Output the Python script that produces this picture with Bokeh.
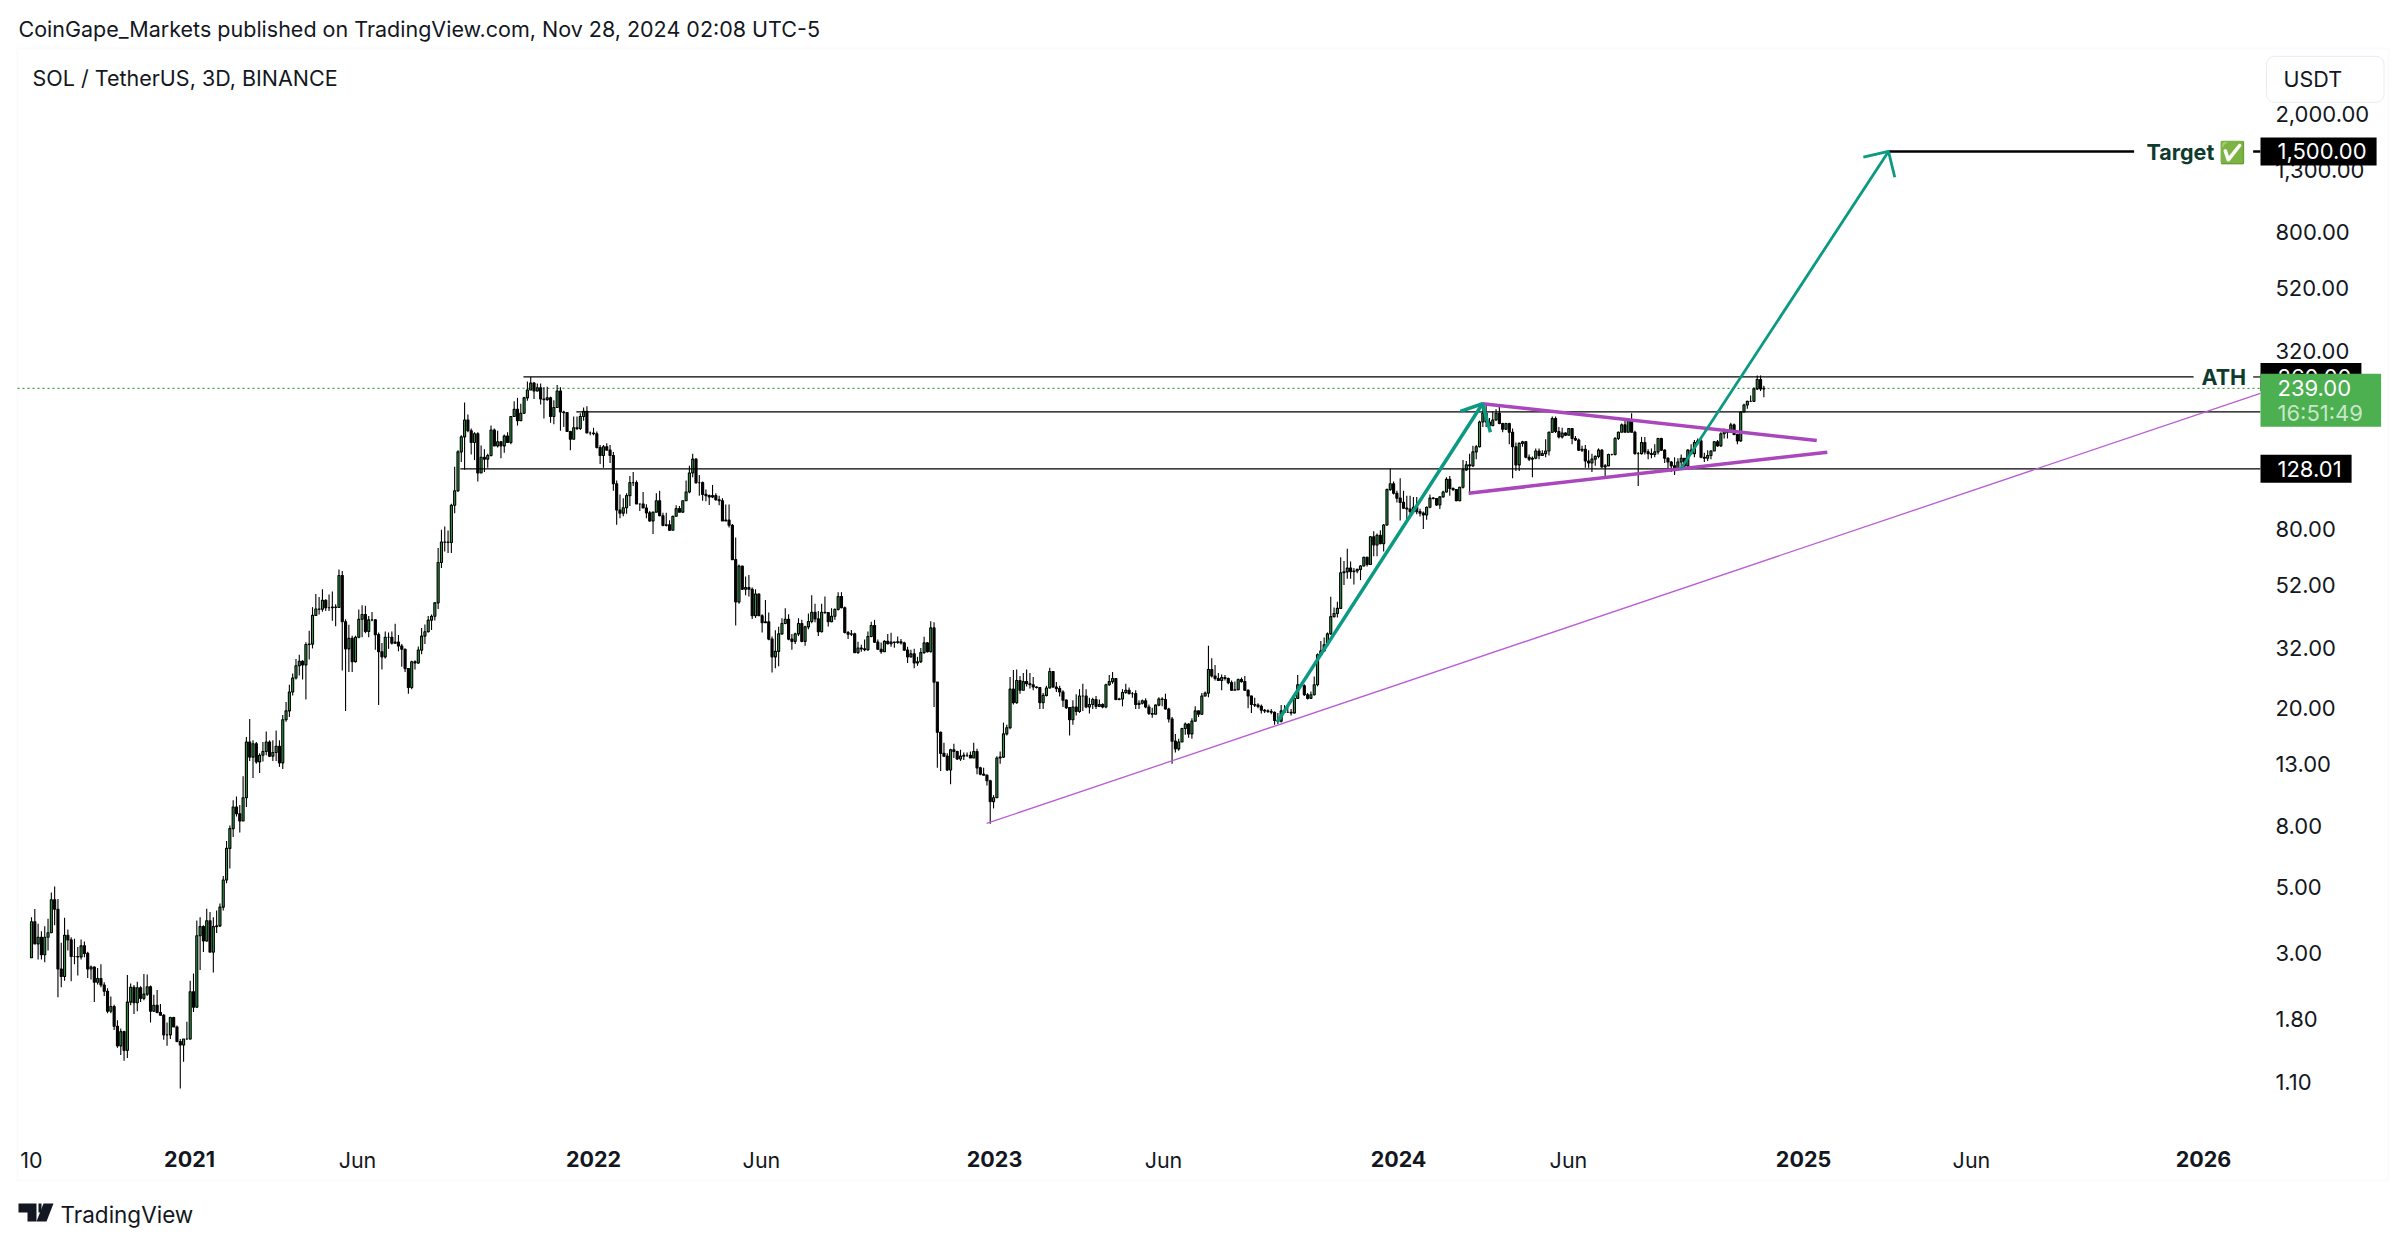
from bokeh.plotting import figure
from bokeh.models import (Range1d, FixedTicker, NumeralTickFormatter, LinearAxis, Label,
                          BoxAnnotation, PolyAnnotation, ColumnDataSource)
from bokeh.embed import file_html
from bokeh.resources import INLINE

first_open = 2.89
closes = [
3.82,3.22,3.39,2.96,3.39,3.51,4.53,4.21,2.65,2.50,
3.44,3.32,2.92,2.92,2.91,3.17,2.99,2.65,2.69,2.39,
2.46,2.34,2.23,1.91,1.98,1.70,1.46,1.63,1.41,2.05,
2.30,2.04,2.29,2.11,2.18,2.31,1.91,2.00,1.89,1.85,
1.59,1.59,1.82,1.69,1.51,1.47,1.54,1.54,2.22,1.97,
3.43,3.68,3.29,3.85,3.02,3.68,3.70,4.28,5.28,6.75,
7.87,9.30,8.83,8.35,10.0,15.4,13.7,15.2,13.2,13.9,
14.3,15.4,13.8,14.2,14.9,13.1,18.3,19.6,22.7,25.3,
27.8,28.8,28.0,32.8,32.9,41.1,43.2,43.1,46.2,43.6,
43.6,43.8,43.7,56.0,39.1,31.7,34.4,28.7,34.7,39.9,
41.4,36.3,39.7,39.7,35.4,31.0,29.8,34.7,34.7,33.1,
33.4,32.4,31.6,27.2,23.5,28.7,28.4,31.4,35,36.2,
39.6,40.8,45.3,61.9,72.6,72.5,72.3,96.5,108,146,
164,187,172,157,168,124,140,138,142,173,
153,158,153,165,157,192,203,186,197,222,
236,249,234,240,220,219,222,192,206,234,
199,198,171,161,176,175,192,200,169,169,
168,151,142,152,148,142,114,93,90.8,94.7,
104,115,115,97.5,97.5,94.5,91,85.5,91.5,100,
89,82.6,83,79.5,88.6,94,91.5,100,107,124,
138,115,115,105,104,103,104,100.7,100,85.5,
86,82.7,63.3,45.6,60.2,50.3,51,50.3,41,48.5,
41,38.8,39.1,34.2,29.8,31.1,35.6,38.6,39.9,34.2,
33.6,35.6,38.6,33.6,37.6,39.2,42.1,40,36.2,42.1,
42,39.1,40.8,43,47.6,43.6,36,35.5,35.6,30.8,
31.9,31.7,31.5,34.9,38,33.4,31.6,31,33.6,33,
33.4,33.3,33.5,33.2,31.4,29.8,30.5,28.4,28.7,30.8,
33.2,31,37.3,24.5,16.6,14.1,13.8,12.4,14.5,14.3,
13.5,13.8,13.9,13.9,13.6,14.3,12.6,12,11.9,11.4,
9.7,10,13.6,13.7,16.4,17.2,23.2,20.9,24.8,23,
24.6,24.2,24,23.6,23.5,20.9,22.1,23.4,26.6,23.6,
23.3,22.7,21.3,20.1,18.3,20.2,19.5,22,22,20.2,
20.6,21.4,20.3,20.6,20.2,24,24.6,25.2,21.4,21.5,
22.6,23,22.4,22.4,20.6,20.8,21.2,20.2,19.2,19.1,
20.5,21.5,21.4,19.9,18.4,15.5,14.6,15.4,17.1,17.7,
16.4,18.1,19.6,19.1,22,22.5,27,25.7,25.2,24.8,
25.4,25.2,24.4,23,23.1,25,24.6,23,22,20.6,
20.5,20.3,19.7,19.6,19.5,19.4,18.2,18.1,19.6,19.4,
19.4,19.3,21.6,24,23.8,22.2,21.6,22.2,24,30.3,
31.2,32.7,35.6,40.7,41.7,43.4,57.2,57.6,59.3,57.7,
58,58.7,60.3,64.5,61,75.6,70.9,76.5,71.6,82.8,
109,114,106,102,98.7,94.4,93.8,91.9,95,91.9,
90.8,89.5,95,102,101.7,96.7,103,107,118,110,
109,100,111,127,132,131,146,152,184,197,
184,179,187,197,182,174,182,170,152,132,
156,158,140,138,139,147,142,144,147,170,
189,171,164,169,166,175,162,160,148,149,
136,134,138,141,148,130,131,143,143,162,
170,180,170,187,170,144,144,157,146,144,
143,146,162,148,139,135,131,128,135,139,
131,148,144,157,159,140,139,142,147,158,
153,168,172,170,180,167,159,199,210,216,
216,238,256,238,239]
highs = [
3.96,4.22,3.76,3.55,3.69,3.91,4.79,5.02,4.56,3.25,
3.94,3.60,3.39,3.35,3.14,3.33,3.28,3.03,2.72,2.70,
2.67,2.75,2.39,2.28,2.14,2.01,1.78,1.67,1.64,2.53,
2.37,2.34,2.40,2.32,2.55,2.54,2.33,2.17,2.25,2.02,
1.87,1.75,1.83,1.83,1.71,1.54,1.54,1.76,2.42,2.56,
3.86,3.96,3.72,4.23,4.12,3.96,4.17,4.40,5.45,7.15,
8.06,9.80,10.1,9.45,11.8,16.0,18.4,15.6,15.4,14.1,
15.4,16.7,15.6,15.6,16.85,15.6,19.0,21.0,24.0,26.2,
29.3,30.3,29.0,33.4,36.5,43.8,48.5,47.4,50.3,46.6,
48.3,49.5,44.8,58.7,58,39.9,38.2,35.1,35.1,43.0,
44.5,44.3,40.9,42.2,39.9,36,33.2,36.3,36,36.3,
38.5,35.3,32.9,31.8,27.2,28.9,29,32.3,37.3,38.3,
40.9,41.4,45.6,69.3,79.8,81.9,79.4,97.7,130,148,
166,214,195,175,170,170,153.5,149,144,179,
175,172,159,167,170,193,216,222,212,224,
252,261,251,248,248,241,242,224,218,245,
241,201,199,172,192,192,197,206,208,171,
176,171,154,154,156,154,146,117,105,102,
106,121,125,117,97.8,107,97.2,92.3,91.5,106,
108,91,91,86,89,96.5,96,100,117,131,
144,139,122,116,109,105,113,106,104,102,
97,97,83.5,75.2,61,59.8,55.6,56.2,51,50.3,
48.7,41.5,46.3,42,34.9,36.6,37.6,40.2,43.4,41.5,
35.6,35.9,40.2,39.7,37.9,41.7,48,45,42.5,45,
47.6,42,43.4,43.4,49.2,49.2,44,36.4,36.7,35.9,
33.5,32.7,34.1,36.3,39.1,39.7,34.1,33.3,33.9,35.6,
35.9,33.5,34.9,34.2,33.5,32.2,31.5,31.7,29.8,31.9,
34.8,33.4,39.3,39,24.4,16.7,15.3,14.1,14.6,15.2,
14.4,14.5,14.2,14.2,14.3,15.3,14.6,12.7,12.6,12,
11.5,10.2,13.8,14.3,17.9,17.6,25.5,26.9,27,25.7,
26.3,27,26.3,25.5,23.7,23.5,22.5,23.8,27.4,26.7,
24.5,23.8,23,21.4,20.2,21.3,22.3,23.2,24.2,23.2,
21.7,21.7,22,21.4,20.8,24.2,25.9,26.5,25.3,21.7,
23.2,24.2,23.5,22.7,23,21.3,21.4,21.6,20.6,20.1,
20.6,21.8,21.8,22.4,20.1,18.7,16.4,15.8,17.2,17.9,
17.8,18.5,20.3,19.6,22.5,22.8,32.5,29.5,28,26.3,
26,25.9,25.4,24.8,24.6,25.2,25.4,25.7,23.2,22.1,
21.7,20.8,20.6,19.9,19.8,19.9,19.5,19.3,20.5,20.5,
20.2,19.9,22.2,25.9,24.2,24.1,22.5,22.8,25.6,30.6,
33.7,34.6,36,47.5,43.7,45.7,64.5,62.7,68.9,62.4,
59.3,59,60.7,64.8,64.8,76,78.9,77.5,79.5,83.4,
110,128,116,108,119,108,104,104,103,103,
94,91.9,95.6,105,103,102,103.6,108,120,121,
110.5,109,111.5,137,136,144,153,154,186,212,
210,190,200,203,208,183,183,183,175,157,
157,159,159,143,141,150,150,148,161,171,
192,192,177,176,170,175,175,165,162,153,
154,148,144,142,150,149,133,144,144,164,
171,182,187,189,197,172,146,164,164,149,
150,155,163,163,149,140,136,140,139,143,
138,149,155,160,162,162,145,148,148,159,
160,170,175,172,183,182,168,200,212,217,
226,241,264,264,244]
lows = [
2.89,3.22,2.85,2.85,2.79,3.06,3.51,3.72,2.13,2.30,
2.42,3.06,2.41,2.75,2.52,2.85,2.90,2.47,2.44,2.05,
2.35,2.30,2.15,1.88,1.88,1.65,1.44,1.36,1.30,1.33,
2.00,1.87,1.91,2.05,2.08,2.15,1.75,1.90,1.88,1.85,
1.53,1.46,1.54,1.69,1.50,1.05,1.29,1.53,1.53,1.90,
1.96,2.63,3.02,3.27,3.02,2.58,3.50,3.67,4.17,5.15,
5.77,7.37,8.65,7.63,8.35,9.3,13.3,11.65,13.0,12.1,
13.25,13.9,13.7,13.3,13.3,12.7,12.5,18.0,18.7,22.1,
25.0,25.8,25.0,21.4,29.2,31.8,40.9,41.4,42.3,42.5,
42.5,39.4,37.8,43.6,26.8,19.6,26.5,26.5,28.5,34.4,
34.7,35.8,34.7,39.3,31.5,20.5,27,29.4,31.7,32.8,
32.9,31.1,27.6,26.5,22.4,23.2,27,28.2,30.4,32.9,
36,36.7,39.5,43.2,59.4,67.5,66.6,66.6,90.8,107,
135,127,170,143,137,116,125,125,129,141,
153,151,139,145,157,155,192,179,186,196,
217,236,220,233,211,189,217,183,181,205,
172,177,171,148,161,173,173,186,169,166,
166,150,133,129,148,134,108,83,87.2,88.6,
90.4,96,112,97.5,92.3,94.5,87.2,85,77.2,91.5,
88.6,82,81.8,79,79.5,88.6,91.5,91,100,106,
120,114,104,100,99.5,96.8,102,100,96.5,85.5,
85.5,81.3,63.3,38,45,50,48,47.6,40,40.3,
41,36,38.8,33.9,26.4,27.3,27.7,35.4,38.4,33.9,
31.5,32.9,35,33.4,32.5,36.9,38.7,39,35,36,
41.6,37.7,39,39.7,42.7,43.4,35.7,34.2,35,30.7,
30.5,31,31.1,31.2,34.7,33.2,31.4,30.5,31,32.8,
32.2,32,33,32.8,31.2,28.4,29.7,27.3,27.8,28.4,
30.5,30.8,30.8,20.2,12.6,12.3,13.7,12.3,11.1,13.6,
13.4,13.3,13.4,13.7,13.6,13.6,12,11.9,11.9,11,
8.17,9.2,10,13,13.6,16.2,17,20.6,20.7,22.4,
23,23.7,23.3,23,23.3,19.9,19.9,21.9,23.3,23.4,
22.7,21.9,20.2,19.9,16.2,17.6,18.9,19.3,19.6,20,
19.2,19.9,19.9,20.3,20,20,23.8,24.2,21.3,21.3,
20.3,22.4,22.3,21.7,19.9,19.9,20.6,20,19,18.6,
19.1,20.3,20.3,19.8,17.9,13,14.2,14.4,15.4,16.3,
15.9,15.8,18.2,18.7,19,21.9,21.8,25.4,24.8,24.7,
23,24.8,24.1,22.9,23,23,24.4,22.9,20,19.3,
20.2,20,19.2,19.3,19.3,19.1,17.6,17.7,17.9,19.3,
19.3,18.9,19.2,21.5,23.7,22,21.4,21.5,22.1,23.7,
30,31.1,32.5,35.4,40.4,40.4,43.2,52,54.6,54.6,
52.2,57,54,60,60,61,65,65,71.3,67.4,
82.3,108,105,98.7,85.7,93.8,86.2,88,91.9,90,
88.5,80.3,86.2,94.4,101,96,93.7,102.5,106.5,104,
108,99.6,99.6,110,126,105,130,138,151,177,
177,171,179,186,181,170,173,155,119,126,
126,152,139,136,120,138,138,142,140,142,
169,169,162,162,165,166,155,159,147,146,
129,129,125,131,139,129,121,131,142,142,
160,171,170,170,170,143,112,143,143,138,
139,140,143,147,134,128,125,122,128,129,
130,129,143,140,155,139,135,136,138,147,
152,152,162,162,170,166,155,158,198,204,
215,215,236,234,223]
assert len(closes) == len(highs) == len(lows), (len(closes), len(highs), len(lows))

price_ticks = [2000, 1300, 800, 520, 320, 200, 130, 80, 52, 32, 20, 13, 8, 5, 3, 1.8, 1.1]
year_ticks = [47.8, 170.0, 291.3, 413.5, 536.0, 657.0]
year_labels = ["2021", "2022", "2023", "2024", "2025", "2026"]
month_ticks = [0, 98.6, 220.8, 342.4, 464.9, 586.8]
month_labels = ["10", "Jun", "Jun", "Jun", "Jun", "Jun"]

ath_line = (148.8, 261.0)
mid_line = (164.8, 199.0)
low_line = (129.7, 128.01)
target_line = (561.7, 1500.0)
chart_left = -4.235
line_end = 674.2
ath_line_end = 654.0
target_line_end = 636.0
last_price = 239.0

trend_xs = [288.9, 674.2]
trend_ys = [8.19, 230.0]
wedge_top_xs = [438.9, 540.0]
wedge_top_ys = [212.0, 159.5]
wedge_low_xs = [434.7, 543.2]
wedge_low_ys = [106.0, 145.7]
arrow1_xs = [376.8, 438.9]
arrow1_ys = [17.96, 212.0]
arrow1_head_xs = [432.2, 438.9, 441.3]
arrow1_head_ys = [200.0, 212.0, 170.0]
arrow2_xs = [498.9, 561.7]
arrow2_ys = [128.0, 1500.0]
arrow2_head_xs = [554.1, 561.7, 563.6]
arrow2_head_ys = [1434.0, 1500.0, 1228.0]

INK = "#131722"
FONT = "Inter"
GREEN_BODY = "#2f9e44"
TEAL = "#0b9981"
PURPLE = "#ab47bc"
W, H = 2398, 1236
time_axis_price = 0.729

p = figure(width=W, height=H, output_backend="svg", toolbar_location=None,
           x_range=Range1d(-9.377, 715.97), y_range=Range1d(0.333, 4833.0), y_axis_type="log",
           x_axis_location=None, y_axis_location="right",
           min_border_left=0, min_border_right=0, min_border_top=0, min_border_bottom=0,
           background_fill_color="white", border_fill_color="white", outline_line_color=None)
p.grid.visible = False

yax = p.yaxis[0]
yax.fixed_location = line_end
yax.ticker = FixedTicker(ticks=price_ticks)
yax.formatter = NumeralTickFormatter(format="0,0.00")
yax.axis_line_color = None
yax.major_tick_line_color = None
yax.minor_tick_line_color = None
yax.major_tick_out = 0
yax.major_tick_in = 0
yax.minor_tick_out = 0
yax.minor_tick_in = 0
yax.major_label_standoff = 15
yax.major_label_text_font = FONT
yax.major_label_text_font_size = "22px"
yax.major_label_text_color = INK


def time_axis(ticks, labels, style, standoff):
    ax = LinearAxis(ticker=FixedTicker(ticks=ticks),
                    major_label_overrides=dict(zip(ticks, labels)),
                    fixed_location=time_axis_price, axis_line_color=None,
                    major_tick_line_color=None, minor_tick_line_color=None,
                    major_tick_out=0, major_tick_in=0, minor_tick_out=0, minor_tick_in=0,
                    major_label_standoff=standoff, major_label_text_font=FONT,
                    major_label_text_font_size="21.5px", major_label_text_color=INK,
                    major_label_text_font_style=style)
    p.add_layout(ax, "below")


time_axis(month_ticks, month_labels, "normal", 12)
time_axis(year_ticks, year_labels, "bold", 16)

xs = list(range(len(closes)))
opens = [first_open] + closes[:-1]
tops = [max(o, c) for o, c in zip(opens, closes)]
bottoms = [min(o, c) for o, c in zip(opens, closes)]
hi = [max(h, t) for h, t in zip(highs, tops)]
lo = [min(l, b) for l, b in zip(lows, bottoms)]
fills = [GREEN_BODY if c >= o else "black" for o, c in zip(opens, closes)]

# last price dotted line
p.line([chart_left, line_end], [last_price, last_price], line_color="#43a047", line_width=1.2, line_dash=[2, 3])

src = ColumnDataSource(dict(x=xs, hi=hi, lo=lo, top=tops, bottom=bottoms, fill=fills))
p.segment("x", "hi", "x", "lo", source=src, line_color="black", line_width=1.1)
p.vbar(x="x", width=0.62, top="top", bottom="bottom", source=src, fill_color="fill", line_color="black", line_width=1.1)

# horizontal levels
p.segment([ath_line[0], mid_line[0], low_line[0]], [ath_line[1], mid_line[1], low_line[1]],
          [ath_line_end, line_end, line_end], [ath_line[1], mid_line[1], low_line[1]],
          line_color="black", line_width=1.2)
p.segment([672.0], [ath_line[1]], [line_end], [ath_line[1]], line_color="black", line_width=1.2)
p.segment([target_line[0], 672.0], [target_line[1]] * 2, [target_line_end, line_end], [target_line[1]] * 2,
          line_color="black", line_width=2.5)

# drawings
p.line(trend_xs, trend_ys, line_color="#ba5cd6", line_width=1.3)
p.line(wedge_top_xs, wedge_top_ys, line_color=PURPLE, line_width=3.5)
p.line(wedge_low_xs, wedge_low_ys, line_color=PURPLE, line_width=3.5)
for ax_, ay_, hx, hy, lw in [(arrow1_xs, arrow1_ys, arrow1_head_xs, arrow1_head_ys, 3.5),
                             (arrow2_xs, arrow2_ys, arrow2_head_xs, arrow2_head_ys, 2.8)]:
    p.line(ax_, ay_, line_color=TEAL, line_width=lw)
    p.line(hx, hy, line_color=TEAL, line_width=lw)


def fy(py):
    return H - py


def text(x, y, s, size="21.5px", color=INK, style="normal", align="left", **kw):
    lab = Label(x=x, y=fy(y), x_units="screen", y_units="screen", text=s, text_font=FONT,
                text_font_size=size, text_color=color, text_font_style=style, text_align=align,
                text_baseline="middle", **kw)
    p.add_layout(lab)
    return lab


def price_box(y, s, bg, color, pad_right, pad_v=6):
    lab = Label(x=2260, y=y, x_units="screen", y_units="data", text=s, text_font=FONT,
                text_font_size="22px", text_color=color, text_align="left", text_baseline="middle",
                background_fill_color=bg, padding=(17, pad_right, pad_v, pad_v))
    p.add_layout(lab)


# panel border
p.add_layout(BoxAnnotation(left=17, right=2388, top=fy(48), bottom=fy(1180),
                           left_units="screen", right_units="screen", top_units="screen", bottom_units="screen",
                           fill_color=None, fill_alpha=0, line_color="#f0f3fa", line_width=2, level="underlay"))

text(18, 28.5, "CoinGape_Markets published on TradingView.com, Nov 28, 2024 02:08 UTC-5")
text(32, 77, "SOL / TetherUS, 3D, BINANCE")
text(60, 1214, "TradingView", size="22.5px")

# logo of the footer
for poly_x, poly_y in [([18, 36, 36, 27, 27, 18], [1203, 1203, 1221, 1221, 1212, 1212]),
                       ([38, 41, 41, 38], [1203, 1203, 1212, 1212]),
                       ([43, 53, 46, 36], [1203, 1203, 1221, 1221])]:
    p.add_layout(PolyAnnotation(xs=poly_x, ys=[fy(v) for v in poly_y],
                                xs_units="screen", ys_units="screen",
                                fill_color=INK, fill_alpha=1, line_color=None))

# USDT button
text(2266, 78.8, "USDT", background_fill_color="white", border_line_color="#e8ebf3",
     padding=(17, 42, 10, 10), border_radius=8)

text(2146, 151, "Target ✅", size="21.5px", color="#0d3b2e", style="bold")
text(2201, 376, "ATH", size="21.5px", color="#0d3b2e", style="bold")

price_box(1500, "1,500.00", "black", "white", 10)
price_box(128.01, "128.01", "black", "white", 10)
price_box(261, "260.00", "black", "white", 10)
# green box of the last price, and its countdown
text(2260, 399.8, "239.00", size="22px", color="white", background_fill_color="#4caf50",
     padding=(17, 30, 6, 31))
text(2277, 412.7, "16:51:49", size="22px", color="#c8e6c9")

open("out.html", "w").write(file_html(p, INLINE))
